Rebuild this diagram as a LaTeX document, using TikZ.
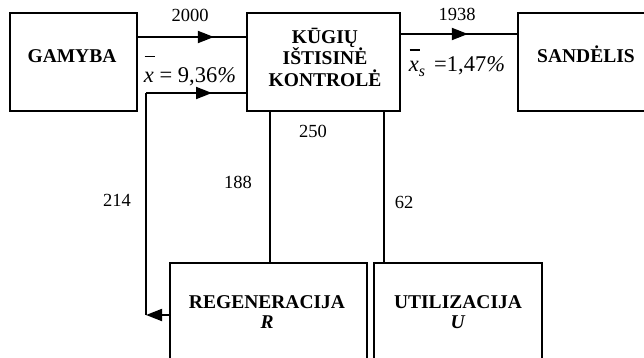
\documentclass[tikz,border=0pt]{standalone}
\usepackage{fontspec}
\setmainfont{Liberation Serif}
\usetikzlibrary{arrows.meta,decorations.markings}
\newcommand{\mybar}[2]{\makebox[0pt][l]{\hspace{0.03em}\raisebox{#1}{\rule{#2}{0.06em}}}}
\tikzset{
  box/.style={draw, line width=1.8pt, inner sep=0pt},
  ln/.style={line width=1.8pt},
  boxtxt/.style={font=\fontsize{19.5}{21.5}\selectfont\bfseries, align=center},
  num/.style={font=\fontsize{18.5}{20}\selectfont, anchor=base},
  frm/.style={font=\fontsize{22.5}{24}\selectfont, anchor=base},
  midarrow/.style={postaction={decorate}, decoration={markings,
     mark=at position #1 with {\arrow{Triangle[length=16pt,width=12pt]}}}},
  tipend/.style={-{Triangle[length=16pt,width=12pt]}}
}
\begin{document}
\begin{tikzpicture}[x=1pt,y=-1pt]
\useasboundingbox (0,0) rectangle (644,358);
\clip (0,0) rectangle (644,358);
% boxes
\node[box, minimum width=127pt, minimum height=98pt] (g) at (73.5,62) {};
\node[box, minimum width=153pt, minimum height=98pt] (k) at (323.5,62) {};
\node[box, minimum width=136pt, minimum height=98pt] (s) at (586,62) {};
\node[box, minimum width=197pt, minimum height=117pt] (r) at (268.5,321.5) {};
\node[box, minimum width=168pt, minimum height=117pt] (u) at (458,321.5) {};
% box texts
\node[boxtxt, anchor=base] (gt) at (72,63) {GAMYBA};
\node[boxtxt] (kt) at (325,57) {KŪGIŲ\\IŠTISINĖ\\KONTROLĖ};
\node[boxtxt, anchor=base] (st) at (586,63) {SANDĖLIS};
\node[boxtxt, font=\fontsize{19.5}{20.5}\selectfont\bfseries] (rt) at (267,312) {REGENERACIJA\\\textit{R}};
\node[boxtxt, font=\fontsize{19.5}{20.5}\selectfont\bfseries] (ut) at (458,312) {UTILIZACIJA\\\textit{U}};
% coordinates
\coordinate (ytop) at (0,37);
\coordinate (yright) at (0,34);
\coordinate (fb) at (146,93);
\coordinate (ybot) at (0,315);
\coordinate (xa) at (270,0);
\coordinate (xb) at (384,0);
% connectors
\draw[ln, midarrow=76pt] (g.east |- ytop) -- (k.west |- ytop);
\draw[ln, midarrow=67pt] (k.east |- yright) -- (s.west |- yright);
\draw[ln, midarrow=66pt] (fb) -- (k.west |- fb);
\draw[ln] (fb |- ybot) -- (fb);
\draw[ln, tipend] (r.west |- ybot) -- (fb |- ybot);
\draw[ln] (xa |- k.south) -- (xa |- r.north);
\draw[ln] (xb |- k.south) -- (xb |- u.north);
% labels
\node[num] (l2000) at (190,22) {2000};
\node[num] (l1938) at (457,21) {1938};
\node[num] (l250) at (313,138) {250};
\node[num] (l188) at (238,188) {188};
\node[num] (l214) at (117,206) {214};
\node[num] (l62) at (404,208) {62};
\node[frm] (f1) at (190,83) {\mybar{1.15em}{0.48em}\textit{x} = 9,36\textit{\%}};
\node[frm] (f2) at (457,72) {\mybar{0.95em}{0.48em}\textit{x}\raisebox{-0.2em}{\textit{\fontsize{16}{16}\selectfont s}}\hspace{0.4em}=1,47\textit{\%}};
\end{tikzpicture}
\end{document}
